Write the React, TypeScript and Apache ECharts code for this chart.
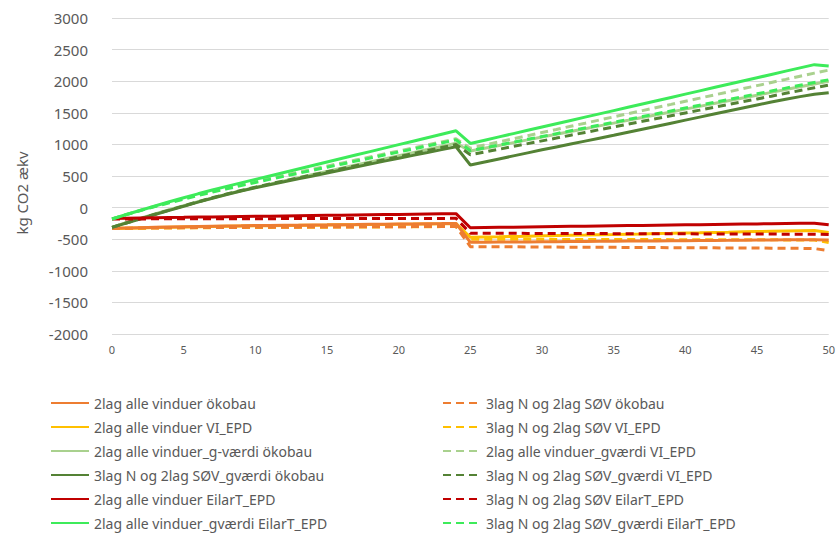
import React, { useEffect, useRef } from 'react';
import * as echarts from 'echarts';

const years = ['0','1','2','3','4','5','6','7','8','9','10','11','12','13','14','15','16','17','18','19','20','21','22','23','24','25','26','27','28','29','30','31','32','33','34','35','36','37','38','39','40','41','42','43','44','45','46','47','48','49','50'];

const yTicks = { min: -2000, max: 3000, interval: 500 };

const orangeSolid = [-328,-322,-317,-312,-307,-302,-298,-294,-290,-288,-285,-283,-280,-278,-275,-273,-270,-268,-265,-263,-260,-258,-255,-253,-250,
  -550,-548,-546,-545,-543,-541,-539,-537,-536,-534,-532,-530,-528,-527,-525,-523,-521,-519,-518,-516,-514,-512,-510,-509,-507,-512];
const orangeDashed = [-330,-327,-324,-322,-320,-318,-316,-315,-314,-313,-312,-311,-310,-309,-308,-307,-306,-305,-304,-303,-302,-301,-300,-299,-298,
  -618,-619,-620,-621,-622,-624,-625,-626,-627,-628,-629,-630,-631,-632,-634,-635,-636,-637,-638,-639,-640,-642,-643,-645,-648,-682];
const yellowSolid = [-332,-326,-321,-316,-311,-306,-302,-298,-294,-291,-288,-286,-283,-281,-278,-276,-273,-271,-268,-266,-263,-261,-258,-256,-253,
  -470,-465,-461,-456,-452,-447,-443,-438,-434,-429,-425,-420,-416,-411,-407,-402,-398,-393,-389,-384,-380,-376,-372,-368,-364,-395];
const yellowDashed = [-332,-329,-326,-324,-322,-320,-318,-317,-316,-315,-314,-313,-312,-311,-310,-309,-308,-307,-306,-305,-304,-303,-302,-301,-300,
  -500,-500,-501,-501,-502,-502,-503,-503,-504,-504,-505,-505,-506,-506,-507,-507,-508,-508,-509,-509,-510,-510,-511,-511,-512,-552];
const lightGreenSolid = [-310,-238,-168,-100,-34,30,92,152,210,266,320,372,423,473,523,573,623,673,722,771,820,869,918,968,1017,
  895,940,984,1028,1072,1116,1160,1205,1249,1293,1337,1381,1426,1470,1514,1558,1602,1647,1691,1735,1779,1823,1868,1912,1956,2000];
const lightGreenDashed = [-180,-110,-42,22,84,144,202,258,312,364,414,463,512,560,608,656,704,752,800,848,896,944,992,1040,1088,
  940,990,1039,1089,1138,1188,1237,1287,1336,1386,1435,1485,1534,1584,1633,1683,1732,1782,1831,1881,1930,1980,2029,2079,2128,2175];
const darkGreenSolid = [-312,-244,-176,-109,-43,22,86,148,208,262,314,362,409,455,501,547,594,641,688,735,781,826,871,917,962,
  674,722,770,818,866,914,960,1006,1052,1098,1144,1192,1240,1288,1336,1384,1432,1480,1528,1576,1624,1670,1714,1756,1792,1818];
const darkGreenDashed = [-312,-243,-174,-106,-39,27,92,155,216,271,324,374,422,470,518,566,614,662,710,758,806,854,902,950,998,
  835,879,923,968,1012,1056,1100,1145,1189,1233,1277,1321,1366,1410,1454,1498,1542,1587,1631,1675,1719,1763,1808,1852,1896,1938];
const redSolid = [-172,-168,-164,-160,-157,-154,-150,-147,-144,-141,-138,-135,-132,-129,-126,-123,-120,-117,-114,-111,-108,-105,-102,-99,-96,
  -318,-315,-312,-309,-306,-303,-300,-297,-294,-291,-288,-285,-282,-279,-276,-273,-270,-267,-264,-261,-258,-255,-252,-249,-246,-272];
const redDashed = [-180,-179,-179,-178,-178,-177,-177,-176,-176,-175,-175,-175,-174,-174,-174,-173,-173,-173,-172,-172,-172,-171,-171,-171,-170,
  -405,-406,-406,-407,-408,-408,-409,-410,-410,-411,-412,-412,-413,-414,-414,-415,-416,-416,-417,-418,-418,-419,-420,-420,-421,-425];
const brightGreenSolid = [-180,-110,-41,26,92,156,218,278,336,391,446,501,556,611,666,721,776,831,886,941,996,1051,1106,1161,1215,
  1015,1067,1119,1171,1223,1275,1327,1379,1431,1483,1535,1587,1639,1691,1743,1795,1847,1899,1951,2003,2055,2107,2159,2211,2262,2242];
const brightGreenDashed = [-180,-112,-46,16,76,134,190,244,296,348,398,447,495,543,591,639,687,735,783,831,879,927,975,1023,1072,
  900,945,990,1035,1080,1125,1170,1215,1260,1305,1350,1395,1440,1485,1530,1575,1620,1665,1710,1755,1800,1845,1890,1935,1980,2022];

const seriesDefs = [
  { name: '2lag alle vinduer VI_EPD', data: yellowSolid, color: '#FFC000', dashed: false },
  { name: '3lag N og 2lag SØV VI_EPD', data: yellowDashed, color: '#FFC000', dashed: true },
  { name: '2lag alle vinduer ökobau', data: orangeSolid, color: '#ED7D31', dashed: false },
  { name: '3lag N og 2lag SØV ökobau', data: orangeDashed, color: '#ED7D31', dashed: true },
  { name: '2lag alle vinduer_g-værdi ökobau', data: lightGreenSolid, color: '#A9D18E', dashed: false },
  { name: '2lag alle vinduer_gværdi VI_EPD', data: lightGreenDashed, color: '#A9D18E', dashed: true },
  { name: '3lag N og 2lag SØV_gværdi ökobau', data: darkGreenSolid, color: '#548235', dashed: false },
  { name: '3lag N og 2lag SØV_gværdi VI_EPD', data: darkGreenDashed, color: '#548235', dashed: true },
  { name: '2lag alle vinduer EilarT_EPD', data: redSolid, color: '#C00000', dashed: false },
  { name: '3lag N og 2lag SØV EilarT_EPD', data: redDashed, color: '#C00000', dashed: true },
  { name: '2lag alle vinduer_gværdi EilarT_EPD', data: brightGreenSolid, color: '#3DEB5A', dashed: false },
  { name: '3lag N og 2lag SØV_gværdi EilarT_EPD', data: brightGreenDashed, color: '#3DEB5A', dashed: true },
];

const legendLeft = [
  '2lag alle vinduer ökobau',
  '2lag alle vinduer VI_EPD',
  '2lag alle vinduer_g-værdi ökobau',
  '3lag N og 2lag SØV_gværdi ökobau',
  '2lag alle vinduer EilarT_EPD',
  '2lag alle vinduer_gværdi EilarT_EPD',
];
const legendRight = [
  '3lag N og 2lag SØV ökobau',
  '3lag N og 2lag SØV VI_EPD',
  '2lag alle vinduer_gværdi VI_EPD',
  '3lag N og 2lag SØV_gværdi VI_EPD',
  '3lag N og 2lag SØV EilarT_EPD',
  '3lag N og 2lag SØV_gværdi EilarT_EPD',
];

const FONT = '"Noto Sans", sans-serif';
const GREY = '#595959';

export default function App() {
  const ref = useRef<HTMLDivElement>(null);
  useEffect(() => {
    const chart = echarts.init(ref.current!, null, { renderer: 'svg' });
    const legendCommon = {
      orient: 'vertical' as const,
      top: 396,
      height: 140,
      width: 380,
      padding: 0,
      itemWidth: 38,
      itemHeight: 14,
      itemGap: 10,
      selectedMode: false,
      itemStyle: { opacity: 0 },
      textStyle: { fontSize: 14, color: GREY, fontFamily: FONT },
    };
    chart.setOption({
      animation: false,
      backgroundColor: '#ffffff',
      grid: { left: 112, right: 8, top: 18, bottom: 199, containLabel: false },
      legend: [
        { ...legendCommon, left: 50, data: legendLeft },
        { ...legendCommon, left: 442, data: legendRight },
      ],
      xAxis: {
        type: 'category',
        data: years,
        boundaryGap: false,
        axisLine: { show: false },
        axisTick: { show: false },
        splitLine: { show: false },
        axisLabel: { interval: 4, fontSize: 11, color: GREY, fontFamily: FONT, margin: 10 },
      },
      yAxis: {
        type: 'value',
        min: yTicks.min,
        max: yTicks.max,
        interval: yTicks.interval,
        axisLine: { show: false },
        axisTick: { show: false },
        splitLine: { lineStyle: { color: '#D9D9D9', width: 1 } },
        axisLabel: {
          fontSize: 15,
          color: GREY,
          fontFamily: FONT,
          margin: 24,
          formatter: (v: number) => String(v),
        },
      },
      graphic: [
        {
          type: 'text',
          x: 22,
          y: 193,
          rotation: Math.PI / 2,
          style: {
            text: 'kg CO2 ækv',
            fontSize: 15,
            fontFamily: FONT,
            fill: GREY,
            align: 'center',
            verticalAlign: 'middle',
          },
        },
      ],
      series: seriesDefs.map((s) => ({
        name: s.name,
        type: 'line',
        data: s.data,
        symbol: 'none',
        showSymbol: false,
        itemStyle: { color: s.color },
        lineStyle: { color: s.color, width: 3, type: s.dashed ? [8, 5] : 'solid', cap: 'butt' },
      })),
    });
    return () => chart.dispose();
  }, []);
  return (
    <div
      ref={ref}
      style={{ position: 'fixed', left: 0, top: 0, width: 838, height: 533, background: '#fff' }}
    />
  );
}
